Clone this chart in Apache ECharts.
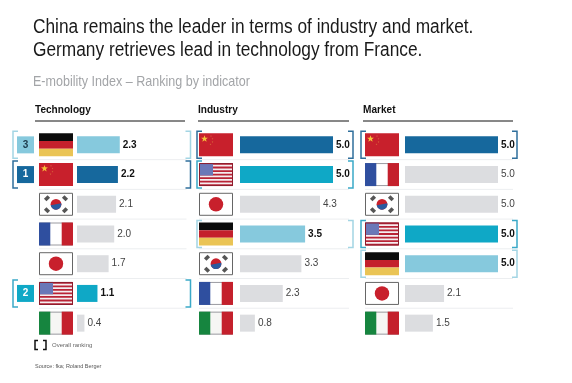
<!DOCTYPE html>
<html>
<head>
<meta charset="utf-8">
<style>
  html, body { margin: 0; padding: 0; background: #fff; }
  #chart { width: 572px; height: 383px; }
</style>
<script src="https://cdn.jsdelivr.net/npm/echarts@6/dist/echarts.min.js"></script>
</head>
<body>
<div id="chart"></div>
<script>
const titleLines = [
  'China remains the leader in terms of industry and market.',
  'Germany retrieves lead in technology from France.'
]
const subtitle = 'E-mobility Index – Ranking by indicator'

const techCountries = ['Germany', 'China', 'Korea', 'France', 'Japan', 'USA', 'Italy']
const techValues = [2.3, 2.2, 2.1, 2.0, 1.7, 1.1, 0.4]
const techRanks = [3, 1, 0, 0, 0, 2, 0]

const industryCountries = ['China', 'USA', 'Japan', 'Germany', 'Korea', 'France', 'Italy']
const industryValues = [5.0, 5.0, 4.3, 3.5, 3.3, 2.3, 0.8]
const industryRanks = [1, 2, 0, 3, 0, 0, 0]

const marketCountries = ['China', 'France', 'Korea', 'USA', 'Germany', 'Japan', 'Italy']
const marketValues = [5.0, 5.0, 5.0, 5.0, 5.0, 2.1, 1.5]
const marketRanks = [1, 0, 0, 2, 3, 0, 0]

const rankColor = { 0: '#dcdde0', 1: '#16689d', 2: '#0fa8c6', 3: '#86c9dd' }
const FONT = '"Liberation Sans", Arial, sans-serif'

const panels = [
  { name: 'Technology', countries: techCountries, values: techValues, ranks: techRanks,
    left: 77, flagX: -38, brL: -64, brR: 113.5, ruleL: 35, ruleR: 185, showBox: true },
  { name: 'Industry', countries: industryCountries, values: industryValues, ranks: industryRanks,
    left: 240, flagX: -41, brL: -43, brR: 113, ruleL: 198, ruleR: 349 },
  { name: 'Market', countries: marketCountries, values: marketValues, ranks: marketRanks,
    left: 405, flagX: -40, brL: -44, brR: 112, ruleL: 363, ruleR: 513 }
]

function rect(x, y, width, height, fill) {
  return { type: 'rect', shape: { x, y, width, height }, style: { fill } }
}

function frame(x, y, w, h, fill, stroke) {
  return { type: 'rect', shape: { x: x + 0.5, y: y + 0.5, width: w - 1, height: h - 1 }, style: { fill, stroke, lineWidth: 1 } }
}

function star(cx, cy, r, fill) {
  const points = []
  for (let i = 0; i < 10; i++) {
    const a = -Math.PI / 2 + i * Math.PI / 5
    const d = i % 2 ? r * 0.42 : r
    points.push([cx + d * Math.cos(a), cy + d * Math.sin(a)])
  }
  return { type: 'polygon', shape: { points }, style: { fill } }
}

// flag is always 34x23, x/y is the top left corner
function flag(country, x, y) {
  const w = 34
  const h = 23
  const out = []
  if (country === 'Germany') {
    out.push(rect(x, y, w, h / 3, '#0c0c0c'), rect(x, y + h / 3, w, h / 3, '#c4202c'), rect(x, y + 2 * h / 3, w, h / 3, '#eac455'))
  } else if (country === 'France') {
    out.push(rect(x + 11.3, y, 11.4, h, '#fff'), frame(x, y, w, h, 'none', '#9a9aa0'))
    out.push(rect(x, y, 11.3, h, '#2f4f9f'), rect(x + 22.7, y, 11.3, h, '#c4202c'))
  } else if (country === 'Italy') {
    out.push(rect(x + 11.3, y, 11.4, h, '#f6f6f4'), frame(x, y, w, h, 'none', '#9a9aa0'))
    out.push(rect(x, y, 11.3, h, '#16853f'), rect(x + 22.7, y, 11.3, h, '#c4202c'))
  } else if (country === 'China') {
    out.push(rect(x, y, w, h, '#c8202c'), star(x + 5.5, y + 5.5, 3.6, '#f5c33a'))
    out.push(star(x + 12, y + 2.8, 1, '#d9603a'), star(x + 13.5, y + 5.4, 1, '#d9603a'), star(x + 13.5, y + 8.6, 1, '#d9603a'), star(x + 11.5, y + 11, 1, '#d9603a'))
  } else if (country === 'USA') {
    out.push(rect(x, y, w, h, '#f4eef0'))
    for (let i = 0; i < 7; i++) out.push(rect(x, y + i * h * 2 / 13, w, h / 13, '#b92336'))
    out.push(rect(x, y, 14, h * 7 / 13, '#6a78b8'))
    out.push(frame(x, y, w, h, 'none', '#8c1c2c'))
  } else if (country === 'Japan') {
    out.push(frame(x, y, w, h, '#fff', '#666'))
    out.push({ type: 'circle', shape: { cx: x + w / 2, cy: y + h / 2, r: 7.2 }, style: { fill: '#c8202c' } })
  } else if (country === 'Korea') {
    const cx = x + w / 2
    const cy = y + h / 2
    out.push(frame(x, y, w, h, '#fff', '#666'))
    out.push({ type: 'circle', shape: { cx, cy, r: 5.4 }, style: { fill: '#c8202c' } })
    out.push({ type: 'sector', shape: { cx, cy, r: 5.4, startAngle: -0.2, endAngle: Math.PI - 0.2 }, style: { fill: '#2a5a9f' } })
    // trigrams sit across the diagonals
    const marks = [[-9, -6, -1], [9, -6, 1], [-9, 6, 1], [9, 6, -1]]
    marks.forEach(m => {
      const dx = 1.8
      const dy = 1.8 * m[2]
      out.push({ type: 'line', shape: { x1: cx + m[0] - dx, y1: cy + m[1] - dy, x2: cx + m[0] + dx, y2: cy + m[1] + dy }, style: { stroke: '#555', lineWidth: 3.6 } })
    })
  }
  return out
}

function bracket(x, top, bot, dir, color) {
  return {
    type: 'polyline',
    shape: { points: [[x + 5 * dir, top], [x, top], [x, bot], [x + 5 * dir, bot]] },
    style: { fill: 'none', stroke: color, lineWidth: 1.5 }
  }
}

const grids = []
const xAxes = []
const yAxes = []
const series = []

panels.forEach((p, n) => {
  grids.push({ left: p.left, top: 130, width: 93, height: 208 })
  xAxes.push({ gridIndex: n, type: 'value', min: 0, max: 5, show: false })
  yAxes.push({ gridIndex: n, type: 'category', inverse: true, data: p.countries, show: false })

  series.push({
    type: 'bar',
    xAxisIndex: n,
    yAxisIndex: n,
    barWidth: 17,
    silent: true,
    z: 3,
    data: p.values.map((v, i) => ({
      value: v,
      itemStyle: { color: rankColor[p.ranks[i]] },
      label: {
        show: true,
        position: 'right',
        distance: 3,
        formatter: v.toFixed(1),
        fontFamily: FONT,
        fontSize: 10,
        fontWeight: p.ranks[i] ? 'bold' : 'normal',
        color: p.ranks[i] ? '#111' : '#444'
      }
    }))
  })

  series.push({
    type: 'custom',
    xAxisIndex: n,
    yAxisIndex: n,
    silent: true,
    clip: false,
    z: 2,
    encode: { x: 0, y: 1 },
    data: p.countries.map((c, i) => [0, i]),
    renderItem(params, api) {
      const i = api.value(1)
      const pt = api.coord([0, i])
      const x0 = pt[0]
      const y0 = pt[1]
      const rank = p.ranks[i]
      const children = []
      // row separator
      if (i < p.countries.length - 1) {
        children.push({
          type: 'line',
          shape: { x1: x0 + p.flagX, y1: y0 + 14.8, x2: x0 + p.brR - 4, y2: y0 + 14.8 },
          style: { stroke: '#eceef0', lineWidth: 1 }
        })
      }
      children.push(...flag(p.countries[i], x0 + p.flagX, y0 - 11.5))
      if (rank) {
        const c = rank === 1 ? '#2f6f9c' : rank === 2 ? '#3aa9c8' : '#a3d5e4'
        children.push(bracket(x0 + p.brL, y0 - 13.5, y0 + 13.5, 1, c))
        children.push(bracket(x0 + p.brR, y0 - 13.5, y0 + 13.5, -1, c))
        if (p.showBox) {
          children.push(rect(x0 - 60, y0 - 8.5, 17, 17, rankColor[rank]))
          children.push({
            type: 'text',
            style: {
              x: x0 - 51.5,
              y: y0,
              text: String(rank),
              fontFamily: FONT,
              fontSize: 10,
              fontWeight: 'bold',
              fill: rank === 3 ? '#1c3a4a' : '#fff',
              align: 'center',
              verticalAlign: 'middle'
            }
          })
        }
      }
      return { type: 'group', children }
    }
  })
})

function label(text, x, y, size, color, weight, scaleX) {
  return {
    type: 'text',
    x,
    y,
    scaleX: scaleX || 1,
    style: { text, fontFamily: FONT, fontSize: size, fill: color, fontWeight: weight || 'normal' }
  }
}

const graphics = [
  label(titleLines[0], 33, 17, 20, '#1a1a1a', 'normal', 0.865),
  label(titleLines[1], 33, 40, 20, '#1a1a1a', 'normal', 0.865),
  label(subtitle, 33, 74, 14.5, '#a3a5a8', 'normal', 0.865),
  label('Overall ranking', 52, 342, 6, '#666'),
  label('Source: fka; Roland Berger', 35, 363, 5.5, '#555'),
  { type: 'polyline', shape: { points: [[38, 340.5], [35, 340.5], [35, 349.5], [38, 349.5]] }, style: { fill: 'none', stroke: '#111', lineWidth: 1.5 } },
  { type: 'polyline', shape: { points: [[43, 340.5], [46, 340.5], [46, 349.5], [43, 349.5]] }, style: { fill: 'none', stroke: '#111', lineWidth: 1.5 } }
]
panels.forEach(p => {
  graphics.push(label(p.name, p.ruleL, 105, 10.5, '#111', 'bold', 0.96))
  graphics.push({ type: 'line', shape: { x1: p.ruleL, y1: 121, x2: p.ruleR, y2: 121 }, style: { stroke: '#111', lineWidth: 1 } })
})

const chart = echarts.init(document.getElementById('chart'), null, { renderer: 'canvas' })
chart.setOption({
  animation: false,
  backgroundColor: '#fff',
  tooltip: { show: false },
  grid: grids,
  xAxis: xAxes,
  yAxis: yAxes,
  series,
  graphic: graphics
})
</script>
</body>
</html>
